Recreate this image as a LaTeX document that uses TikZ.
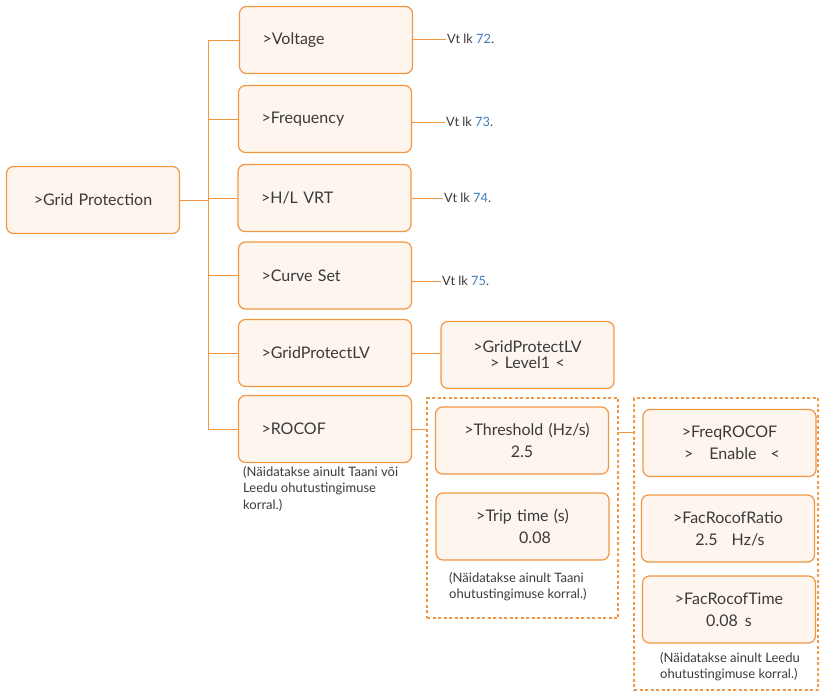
\documentclass[tikz,border=0pt]{standalone}
\usepackage{fontspec}
\setmainfont{Lato}
\usepackage{tikz}
\usetikzlibrary{positioning,calc}
\definecolor{laranja}{HTML}{F39642}
\definecolor{creme}{HTML}{FDF5EE}
\definecolor{azul}{HTML}{3F7CBF}
\definecolor{texto}{HTML}{3A3A3A}
\newcommand{\pag}[1]{Vt lk \textcolor{azul}{#1}.}

\begin{document}
\begin{tikzpicture}[x=1pt, y=-1pt, font=\fontsize{16}{22}\selectfont, text=texto,
  menu/.style={draw=laranja, fill=creme, line width=1.2pt, rounded corners=7pt, text width=127pt, inner xsep=23pt, minimum height=67pt, align=left},
  sub/.style={menu, text width=153pt, inner xsep=10pt, align=center},
  grupo/.style={draw=laranja, line width=1.2pt, dash pattern=on 3pt off 2.5pt},
  liga/.style={draw=laranja, line width=1pt},
  ref/.style={anchor=west, inner sep=1pt, font=\fontsize{12.8}{15}\selectfont},
  nota/.style={anchor=north west, align=left, inner sep=0pt, font=\fontsize{13}{16.5}\selectfont}]
  \useasboundingbox (0,0) rectangle (819,691);
  % menu principal
  \node[sub] (gp) at (93,200) {>Grid Protection};
  \node[menu] (volt) at (326,40) {>Voltage};
  \node[menu] (freq) at (325,119) {>Frequency};
  \node[menu] (hlvrt) at (324.5,198) {>H/L VRT};
  \node[menu] (curva) at (325,275.5) {>Curve Set};
  \node[menu] (gplv) at (325,353) {>GridProtectLV};
  \node[menu] (rocof) at (325,429) {>ROCOF};
  \coordinate (tronco) at (208,0);
  \draw[liga] (gp.east) -- (gp.east -| tronco);
  \draw[liga] (volt.west -| tronco) -- (rocof.west -| tronco);
  \foreach \n in {volt,freq,hlvrt,curva,gplv,rocof}
    \draw[liga] (\n.west -| tronco) -- (\n.west);
  % referencias
  \node[ref] (r72) at (446,39) {\pag{72}};
  \node[ref] (r73) at (445,122) {\pag{73}};
  \node[ref] (r74) at (443,198) {\pag{74}};
  \node[ref] (r75) at (441,281) {\pag{75}};
  \draw[liga] (volt.east |- r72.west) -- (r72.west);
  \draw[liga] (freq.east |- r73.west) -- (r73.west);
  \draw[liga] (hlvrt.east |- r74.west) -- (r74.west);
  \draw[liga] (curva.east |- r75.west) -- (r75.west);
  % submenus
  \node[sub] (nivel) at (527.5,355) {>GridProtectLV\\[-6pt]> Level1 <};
  \draw[liga] (gplv.east) -- (gplv.east -| nivel.west);
  \node[nota] (n1) at (243,466) {(Näidatakse ainult Taani või\\Leedu ohutustingimuse\\korral.)};
  % ROCOF, Taani
  \node[grupo, minimum width=191pt, minimum height=220pt] (g1) at (522.5,508) {};
  \node[sub] (limiar) at (522,440.5) {\hspace{10pt}>Threshold (Hz/s)\\2.5};
  \node[sub] (disparo) at (522.5,526.5) {>Trip time (s)\\\hspace{25pt}0.08};
  \node[nota] (n2) at (449,572) {(Näidatakse ainult Taani\\ohutustingimuse korral.)};
  \draw[liga] (rocof.east) -- (rocof.east -| g1.west);
  % ROCOF, Leedu
  \node[grupo, minimum width=184pt, minimum height=292pt] (g2) at (726,544) {};
  \node[sub] (freqr) at (729.5,443) {>FreqROCOF\hspace{12pt}\\\hspace{5pt}>\hspace{16pt}Enable\hspace{14pt}<};
  \node[sub] (razao) at (728,528.5) {>FacRocofRatio\\\hspace{4pt}2.5\hspace{14pt}Hz/s};
  \node[sub] (tempo) at (729,609.5) {>FacRocofTime\\0.08\hspace{7pt}s};
  \node[nota] (n3) at (660,652) {(Näidatakse ainult Leedu\\ohutustingimuse korral.)};
  \coordinate (elo) at (0,432);
  \draw[liga] (g1.east |- elo) -- (g2.west |- elo);
\end{tikzpicture}
\end{document}
